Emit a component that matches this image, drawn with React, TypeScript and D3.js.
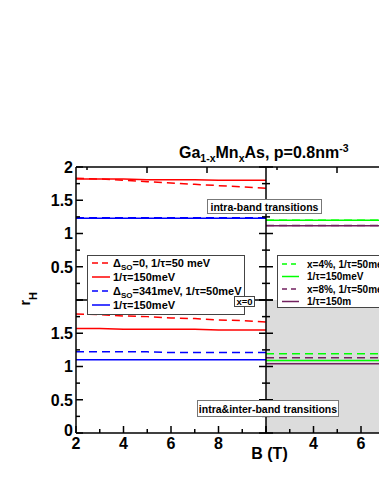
import React from "react";
import * as d3 from "d3";

// ---- data ----
const fieldB = [2, 3, 4, 5, 6, 7, 8, 9, 10];

// left panel (x = 0), top half: intra-band transitions
const redDashTop = [1.83, 1.82, 1.8, 1.78, 1.76, 1.74, 1.72, 1.7, 1.68];
const redSolidTop = [1.82, 1.82, 1.82, 1.81, 1.81, 1.81, 1.8, 1.8, 1.8];
const blueDashTop = [1.235, 1.235, 1.235, 1.235, 1.235, 1.235, 1.235, 1.235, 1.235];
const blueSolidTop = [1.23, 1.23, 1.23, 1.23, 1.23, 1.23, 1.23, 1.23, 1.23];

// left panel, bottom half: intra & inter-band transitions
const redDashBot = [1.79, 1.78, 1.76, 1.75, 1.73, 1.72, 1.7, 1.69, 1.67];
const redSolidBot = [1.57, 1.57, 1.56, 1.56, 1.56, 1.56, 1.55, 1.55, 1.55];
const blueDashBot = [1.22, 1.22, 1.22, 1.22, 1.21, 1.21, 1.21, 1.21, 1.21];
const blueSolidBot = [1.1, 1.1, 1.1, 1.1, 1.1, 1.1, 1.1, 1.1, 1.1];

// right panel, top half
const greenDashTop = [1.2, 1.2, 1.2, 1.2, 1.2, 1.2, 1.2, 1.2, 1.2];
const greenSolidTop = [1.2, 1.2, 1.2, 1.2, 1.2, 1.2, 1.2, 1.2, 1.2];
const purpleDashTop = [1.12, 1.12, 1.12, 1.12, 1.12, 1.12, 1.12, 1.12, 1.12];
const purpleSolidTop = [1.115, 1.115, 1.115, 1.115, 1.115, 1.115, 1.115, 1.115, 1.115];

// right panel, bottom half
const greenDashBot = [1.19, 1.19, 1.19, 1.19, 1.19, 1.19, 1.19, 1.19, 1.19];
const purpleDashBot = [1.13, 1.13, 1.13, 1.13, 1.13, 1.13, 1.13, 1.13, 1.13];
const greenSolidBot = [1.09, 1.09, 1.09, 1.09, 1.09, 1.09, 1.09, 1.09, 1.09];
const purpleSolidBot = [1.04, 1.04, 1.04, 1.04, 1.04, 1.04, 1.04, 1.04, 1.04];

const xTickValues = [2, 4, 6, 8];
const xMinorValues = [3, 5, 7, 9];
const yTopLabels = [0.5, 1, 1.5, 2];
const yBotLabels = [0, 0.5, 1, 1.5];
const yTickValues = [0, 0.25, 0.5, 0.75, 1, 1.25, 1.5, 1.75, 2];
const topAxisMajor = [1, 2];
const topAxisMinor = [0];

const leftLegend = ["=0, 1/τ=50 meV", "1/τ=150meV", "=341meV, 1/τ=50meV", "1/τ=150meV"];
const rightLegend = ["x=4%, 1/τ=50meV", "1/τ=150meV", "x=8%, 1/τ=50meV", "1/τ=150m"];

const RED = "#ff0000";
const BLUE = "#0000ff";
const GREEN = "#00ff00";
const PURPLE = "#72215f";
const FONT = "'Liberation Sans', Arial, Helvetica, sans-serif";

export default function App() {
  const W = 379;
  const H = 490;
  const x0 = 76, xm = 266, xr = 456;
  const yT = 167, yM = 300, yB = 433;

  const xL = d3.scaleLinear().domain([2, 10]).range([x0, xm]);
  const xR = d3.scaleLinear().domain([2, 10]).range([xm, xr]);
  const yTop = d3.scaleLinear().domain([0, 2]).range([yM, yT]);
  const yBot = d3.scaleLinear().domain([0, 2]).range([yB, yM]);
  const topL = d3.scaleLinear().domain([0, 3]).range([87, 267]);
  const topR = d3.scaleLinear().domain([0, 3]).range([277, 457]);

  const mk = (xs: d3.ScaleLinear<number, number>, ys: d3.ScaleLinear<number, number>) =>
    d3.line<number>().x((_, i) => xs(fieldB[i])).y((v) => ys(v));

  const lTop = mk(xL, yTop);
  const lBot = mk(xL, yBot);
  const rTop = mk(xR, yTop);
  const rBot = mk(xR, yBot);

  const dash = "8,5";
  const series = [
    { d: lTop(blueDashTop), c: BLUE, dash },
    { d: lTop(blueSolidTop), c: BLUE },
    { d: lTop(redDashTop), c: RED, dash },
    { d: lTop(redSolidTop), c: RED },
    { d: lBot(redDashBot), c: RED, dash },
    { d: lBot(redSolidBot), c: RED },
    { d: lBot(blueDashBot), c: BLUE, dash },
    { d: lBot(blueSolidBot), c: BLUE },
    { d: rTop(greenDashTop), c: GREEN, dash },
    { d: rTop(greenSolidTop), c: GREEN },
    { d: rTop(purpleDashTop), c: PURPLE, dash },
    { d: rTop(purpleSolidTop), c: PURPLE },
    { d: rBot(greenDashBot), c: GREEN, dash },
    { d: rBot(purpleDashBot), c: PURPLE, dash },
    { d: rBot(greenSolidBot), c: GREEN },
    { d: rBot(purpleSolidBot), c: PURPLE },
  ];

  const isMajor = (v: number) => Math.abs(v * 2 - Math.round(v * 2)) < 1e-6;

  const leftColors = [RED, RED, BLUE, BLUE];
  const rightColors = [GREEN, GREEN, PURPLE, PURPLE];
  const leftRows = [263, 277, 291, 305];
  const rightRows = [264, 276.5, 289, 301.5];

  return (
    <svg
      width={W}
      height={H}
      style={{ position: "absolute", left: 0, top: 0, background: "#fff" }}
      fontFamily={FONT}
      fontWeight="bold"
    >
      <rect x={0} y={0} width={W} height={H} fill="#fff" />
      {/* gray region right bottom */}
      <rect x={xm} y={yM} width={xr - xm} height={yB - yM} fill="#dcdcdc" />

      {/* data */}
      {series.map((s, i) => (
        <path key={i} d={s.d || ""} fill="none" stroke={s.c} strokeWidth={1.5} strokeDasharray={s.dash} />
      ))}

      {/* mid line left panel */}
      <line x1={x0} x2={xm} y1={yM} y2={yM} stroke="#000" strokeWidth={1.5} />

      {/* frame */}
      <line x1={x0} x2={W + 5} y1={yT} y2={yT} stroke="#000" strokeWidth={1.5} />
      <line x1={x0} x2={W + 5} y1={yB} y2={yB} stroke="#000" strokeWidth={1.5} />
      <line x1={x0} x2={x0} y1={yT} y2={yB} stroke="#000" strokeWidth={1.5} />
      <line x1={xm} x2={xm} y1={yT} y2={yB} stroke="#000" strokeWidth={1.5} />

      {/* y ticks left axis and divider */}
      {[yTop, yBot].map((ys, k) =>
        yTickValues.map((v) => {
          const len = isMajor(v) ? 7 : 4;
          const y = ys(v);
          return (
            <g key={`yt${k}-${v}`} stroke="#000" strokeWidth={1.5}>
              <line x1={x0} x2={x0 + len} y1={y} y2={y} />
              <line x1={xm - len} x2={xm + len} y1={y} y2={y} />
            </g>
          );
        })
      )}

      {/* x ticks bottom */}
      {[xL, xR].map((xs, k) => (
        <g key={`xt${k}`} stroke="#000" strokeWidth={1.5}>
          {xTickValues.concat([10]).map((v) => (
            <line key={`M${v}`} x1={xs(v)} x2={xs(v)} y1={yB} y2={yB - 7} />
          ))}
          {xMinorValues.map((v) => (
            <line key={`m${v}`} x1={xs(v)} x2={xs(v)} y1={yB} y2={yB - 4} />
          ))}
        </g>
      ))}

      {/* top axis ticks */}
      {[topL, topR].map((ts, k) => (
        <g key={`tt${k}`} stroke="#000" strokeWidth={1.5}>
          {topAxisMajor.map((v) => (
            <line key={`M${v}`} x1={ts(v)} x2={ts(v)} y1={yT} y2={yT + 6} />
          ))}
          {topAxisMinor.map((v) => (
            <line key={`m${v}`} x1={ts(v)} x2={ts(v)} y1={yT} y2={yT + 3} />
          ))}
        </g>
      ))}

      {/* y tick labels */}
      {yTopLabels.map((v) => (
        <text key={`lt${v}`} x={x0 - 3} y={yTop(v)} dy="0.36em" textAnchor="end" fontSize={16}>
          {String(v)}
        </text>
      ))}
      {yBotLabels.map((v) => (
        <text key={`lb${v}`} x={x0 - 3} y={yBot(v) - (v === 0 ? 3 : 0)} dy="0.36em" textAnchor="end" fontSize={16}>
          {String(v)}
        </text>
      ))}

      {/* x tick labels */}
      {xTickValues.map((v) => (
        <text key={`xl${v}`} x={xL(v)} y={449} textAnchor="middle" fontSize={16}>
          {String(v)}
        </text>
      ))}
      {xTickValues
        .slice(1)
        .filter((v) => xR(v) + 6 < W)
        .map((v) => (
          <text key={`xr${v}`} x={xR(v)} y={449} textAnchor="middle" fontSize={16}>
            {String(v)}
          </text>
        ))}

      {/* axis titles */}
      <text x={269.5} y={459} textAnchor="middle" fontSize={16}>B (T)</text>
      <text transform="translate(30,305.5) rotate(-90)" fontSize={14}>
        r<tspan fontSize={11} dy={7}>H</tspan>
      </text>

      {/* title */}
      <text x={179} y={158} fontSize={16}>
        Ga<tspan fontSize={10.5} dy={4}>1-x</tspan>
        <tspan dy={-4}>Mn</tspan>
        <tspan fontSize={10.5} dy={4}>x</tspan>
        <tspan dy={-4}>As, p=0.8nm</tspan>
        <tspan fontSize={10.5} dy={-6}>-3</tspan>
      </text>

      {/* left legend */}
      <rect x={87.5} y={255.5} width={157} height={59} fill="#fff" stroke="#444" strokeWidth={1} />
      {leftLegend.map((t, i) => (
        <g key={`ll${i}`}>
          <line
            x1={92}
            x2={110}
            y1={leftRows[i]}
            y2={leftRows[i]}
            stroke={leftColors[i]}
            strokeWidth={1.5}
            strokeDasharray={i % 2 === 0 ? "6,4" : undefined}
          />
          {i % 2 === 0 ? (
            <text x={113} y={leftRows[i] + 4} fontSize={11}>
              Δ<tspan fontSize={8} dy={3}>SO</tspan>
              <tspan dy={-3}>{t}</tspan>
            </text>
          ) : (
            <text x={113} y={leftRows[i] + 4} fontSize={11}>
              {t}
            </text>
          )}
        </g>
      ))}

      {/* right legend */}
      <rect x={277.5} y={255.5} width={140} height={52} fill="#fff" stroke="#444" strokeWidth={1} />
      {rightLegend.map((t, i) => (
        <g key={`rl${i}`}>
          <line
            x1={282}
            x2={299}
            y1={rightRows[i]}
            y2={rightRows[i]}
            stroke={rightColors[i]}
            strokeWidth={1.5}
            strokeDasharray={i % 2 === 0 ? "5,4" : undefined}
          />
          <text x={307} y={rightRows[i] + 3.5} fontSize={10}>
            {t}
          </text>
        </g>
      ))}

      {/* annotation boxes */}
      <rect x={207.5} y={199.5} width={114} height={14} fill="#fff" stroke="#777" strokeWidth={1} />
      <text x={264.5} y={210.5} textAnchor="middle" fontSize={10.5}>intra-band transitions</text>

      <rect x={197.5} y={400.5} width={141} height={16} fill="#fff" stroke="#777" strokeWidth={1} />
      <text x={268} y={412.5} textAnchor="middle" fontSize={10.5}>intra&amp;inter-band transitions</text>

      <rect x={234.5} y={296.5} width={20} height={10} fill="#fff" stroke="#444" strokeWidth={1} />
      <text x={244.5} y={305} textAnchor="middle" fontSize={9.5}>x=0</text>
    </svg>
  );
}
